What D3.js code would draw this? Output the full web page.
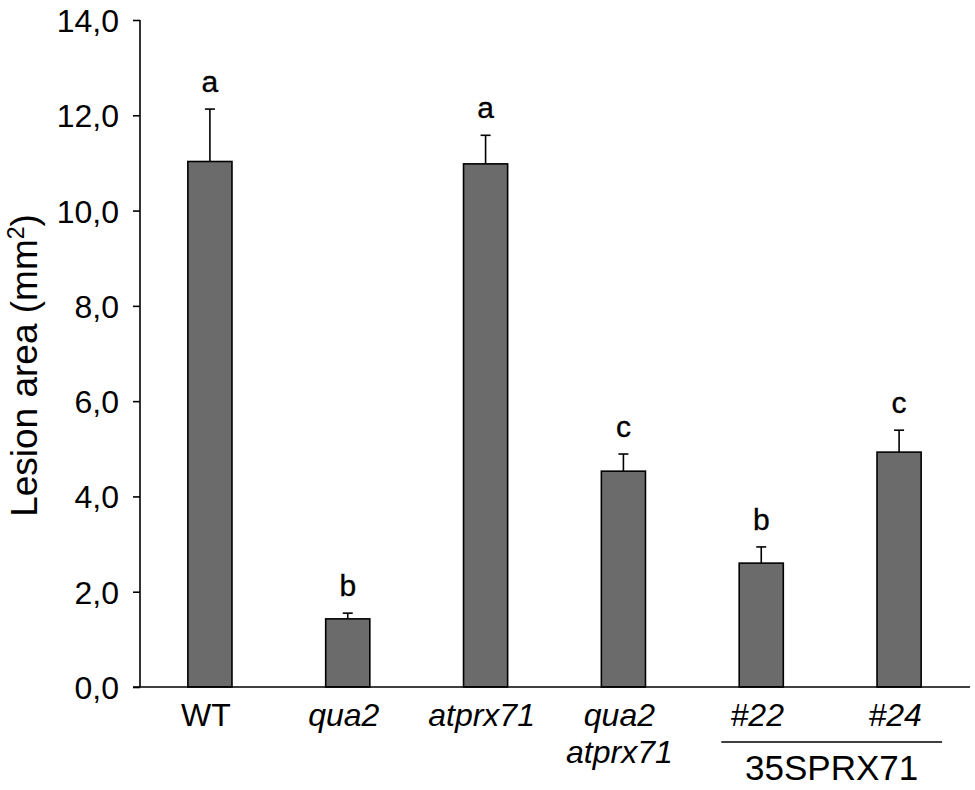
<!DOCTYPE html>
<html>
<head>
<meta charset="utf-8">
<script src="https://cdn.jsdelivr.net/npm/d3@7"></script>
<style>
  body { margin: 0; background: #fff; }
  text { font-family: "Liberation Sans", Arial, sans-serif; fill: #000; }
</style>
</head>
<body>
<div id="chart"></div>
<script>
// data
var genotypes = ["WT", "qua2", "atprx71", "qua2 atprx71", "#22", "#24"];
var lesionMean = [11.03, 1.43, 10.98, 4.53, 2.60, 4.93];
var lesionErr = [1.10, 0.12, 0.60, 0.36, 0.34, 0.46];
var groupLetters = ["a", "b", "a", "c", "b", "c"];
var yTicks = [0, 2, 4, 6, 8, 10, 12, 14];

var width = 975,
    height = 790,
    margin = {top: 20, left: 140, right: 7, bottom: 103};

var svg = d3.select("#chart").append("svg")
    .attr("width", width)
    .attr("height", height);

var x = d3.scaleBand()
    .domain(genotypes)
    .range([margin.left + 1, width - margin.right])
    .paddingInner(0.68)
    .paddingOuter(0.34);

var y = d3.scaleLinear()
    .domain([0, 14])
    .range([height - margin.bottom, margin.top]);

// bars
svg.selectAll("rect.bar")
    .data(genotypes)
    .enter().append("rect")
    .attr("class", "bar")
    .attr("x", function(d) { return x(d); })
    .attr("width", x.bandwidth())
    .attr("y", function(d, i) { return y(lesionMean[i]); })
    .attr("height", function(d, i) { return y(0) - y(lesionMean[i]); })
    .attr("fill", "#6b6b6b")
    .attr("stroke", "#000")
    .attr("stroke-width", 1.6);

// upper error bars
var err = svg.append("g").attr("stroke", "#000").attr("stroke-width", 1.6);
genotypes.forEach(function(d, i) {
    var cx = x(d) + x.bandwidth() / 2;
    err.append("line")
        .attr("x1", cx).attr("x2", cx)
        .attr("y1", y(lesionMean[i])).attr("y2", y(lesionMean[i] + lesionErr[i]));
    err.append("line")
        .attr("x1", cx - 5).attr("x2", cx + 5)
        .attr("y1", y(lesionMean[i] + lesionErr[i])).attr("y2", y(lesionMean[i] + lesionErr[i]));
});

// significance letters
svg.selectAll("text.letter")
    .data(genotypes)
    .enter().append("text")
    .attr("class", "letter")
    .attr("x", function(d) { return x(d) + x.bandwidth() / 2; })
    .attr("y", function(d, i) { return y(lesionMean[i] + lesionErr[i]) - 17; })
    .attr("text-anchor", "middle")
    .attr("font-size", 30)
    .attr("stroke", "#000")
    .attr("stroke-width", 0.35)
    .text(function(d, i) { return groupLetters[i]; });

// y axis
var yAxis = d3.axisLeft(y)
    .tickValues(yTicks)
    .tickSize(7)
    .tickPadding(14)
    .tickFormat(function(d) { return d3.format(".1f")(d).replace(".", ","); });

var gy = svg.append("g")
    .attr("transform", "translate(" + margin.left + ",0)")
    .call(yAxis);
gy.select(".domain").attr("stroke-width", 1.6).attr("d", "M0," + y(14) + "V" + y(0));
gy.selectAll(".tick line").attr("stroke-width", 1.6);
gy.selectAll(".tick text")
    .attr("font-size", 32)
    .attr("dy", "0.36em")
    .style("font-family", "'Liberation Sans', Arial, sans-serif");

// x axis baseline
svg.append("line")
    .attr("x1", margin.left - 7).attr("x2", width - margin.right + 2)
    .attr("y1", y(0)).attr("y2", y(0))
    .attr("stroke", "#000").attr("stroke-width", 1.6);

// y axis title
svg.append("text")
    .attr("transform", "translate(37," + ((y(0) + y(14)) / 2 + 12) + ") rotate(-90)")
    .attr("text-anchor", "middle")
    .attr("font-size", 37)
    .html("Lesion area (mm<tspan baseline-shift=\"super\" font-size=\"23\">2</tspan>)");

// category labels
var labelY = y(0) + 39;
genotypes.forEach(function(d, i) {
    var cx = x(d) + x.bandwidth() / 2 - 4;
    var t = svg.append("text")
        .attr("x", cx)
        .attr("y", labelY)
        .attr("text-anchor", "middle")
        .attr("font-size", 32)
        .attr("font-style", d === "WT" ? "normal" : "italic");
    var parts = d.split(" ");
    parts.forEach(function(p, j) {
        t.append("tspan").attr("x", cx).attr("dy", j === 0 ? 0 : 37).text(p);
    });
});

// transgenic group bracket
var g1 = x("#22") + x.bandwidth() / 2 - 40,
    g2 = x("#24") + x.bandwidth() / 2 + 43;
svg.append("line")
    .attr("x1", g1).attr("x2", g2)
    .attr("y1", labelY + 16).attr("y2", labelY + 16)
    .attr("stroke", "#000").attr("stroke-width", 1.4);
svg.append("text")
    .attr("x", (g1 + g2) / 2)
    .attr("y", labelY + 54)
    .attr("text-anchor", "middle")
    .attr("font-size", 35)
    .text("35SPRX71");
</script>
</body>
</html>
